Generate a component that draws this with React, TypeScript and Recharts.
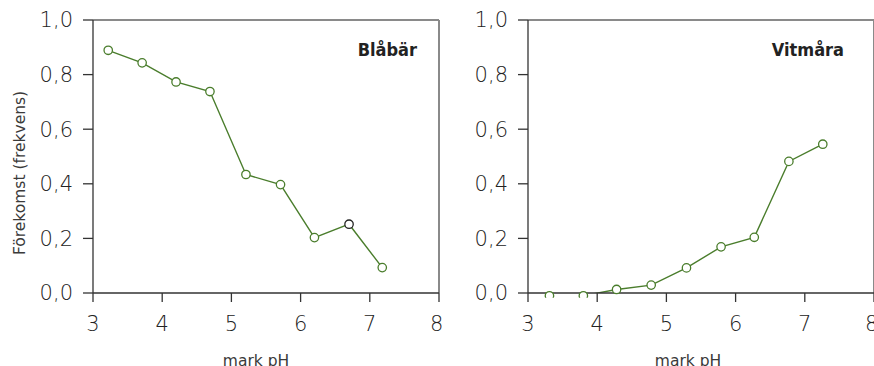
import { LineChart, Line, XAxis, YAxis, ReferenceLine } from 'recharts'

// Blåbär (left panel)
const blabarPh = [3.22, 3.71, 4.2, 4.69, 5.21, 5.71, 6.2, 6.7, 7.18]
const blabarFreq = [0.889, 0.843, 0.773, 0.738, 0.434, 0.397, 0.203, 0.252, 0.093]

// Vitmåra (right panel)
const vitmaraPh = [3.31, 3.8, 4.28, 4.78, 5.29, 5.79, 6.27, 6.77, 7.26]
const vitmaraFreq = [-0.01, -0.01, 0.013, 0.029, 0.092, 0.169, 0.204, 0.482, 0.545]

const xTicks = [3, 4, 5, 6, 7, 8]
const yTicks = [0, 0.2, 0.4, 0.6, 0.8, 1.0]

const GREEN = '#4a7d2c'
const AXIS = '#333333'
const FRAME = '#8a8a8a'
const TEXT = '#3a3a3a'
const FONT = '"DejaVu Sans", sans-serif'

const fmtComma = (v: number) => v.toFixed(1).replace('.', ',')

interface PanelProps {
  left: number
  ph: number[]
  freq: number[]
  title: string
  titleX: number
  xLabelX: number
  showYLabel: boolean
  blackDotIndex?: number
}

function Panel({ left, ph, freq, title, titleX, xLabelX, showYLabel, blackDotIndex }: PanelProps) {
  const data = ph.map((p, i) => ({ ph: p, freq: freq[i] }))

  const renderDot = (props: any) => {
    const { cx, cy, index } = props
    return (
      <circle
        key={`dot-${index}`}
        cx={cx}
        cy={cy}
        r={4.2}
        fill="#ffffff"
        stroke={index === blackDotIndex ? '#222222' : GREEN}
        strokeWidth={1.3}
      />
    )
  }

  const tickStyle = { fill: '#222', fontSize: 21, fontFamily: FONT, fontWeight: 300 }

  return (
    <div style={{ position: 'absolute', left, top: 0 }}>
      <LineChart
        width={442}
        height={366}
        data={data}
        margin={{ top: 20, right: 3, bottom: 0, left: 33 }}>
        <XAxis
          dataKey="ph"
          type="number"
          domain={[3, 8]}
          ticks={xTicks}
          height={73}
          stroke={AXIS}
          strokeWidth={1.3}
          tickSize={9}
          tickMargin={14}
          tick={tickStyle}
          label={{
            content: () => (
              <text
                x={xLabelX}
                y={366}
                textAnchor="middle"
                fill={TEXT}
                fontSize={15.5}
                fontFamily={FONT}>
                mark pH
              </text>
            )
          }}
        />
        <YAxis
          type="number"
          domain={[0, 1]}
          allowDataOverflow
          ticks={yTicks}
          width={60}
          stroke={AXIS}
          strokeWidth={1.3}
          tickSize={10}
          tickMargin={10}
          tickFormatter={fmtComma}
          tick={tickStyle}
          label={
            showYLabel
              ? {
                  content: () => (
                    <text
                      x={25}
                      y={173}
                      transform="rotate(-90, 25, 173)"
                      textAnchor="middle"
                      fill={TEXT}
                      fontSize={15.5}
                      fontFamily={FONT}>
                      Förekomst (frekvens)
                    </text>
                  )
                }
              : undefined
          }
        />
        <ReferenceLine y={1} stroke={FRAME} strokeWidth={2} />
        <ReferenceLine x={8} stroke={FRAME} strokeWidth={2} />
        <Line
          dataKey="freq"
          type="linear"
          stroke={GREEN}
          strokeWidth={1.4}
          dot={blackDotIndex !== undefined ? renderDot : { clipDot: false, r: 4.2, fill: '#ffffff', stroke: GREEN, strokeWidth: 1.3 }}
          activeDot={false}
          isAnimationActive={false}
        />
        <text
          x={titleX}
          y={56}
          textAnchor="end"
          fill="#222"
          fontSize={18}
          fontWeight="bold"
          fontFamily='"DejaVu Sans Condensed", "DejaVu Sans", sans-serif'
          style={{ fontStretch: 'condensed' }}>
          {title}
        </text>
      </LineChart>
    </div>
  )
}

export default function App() {
  return (
    <div style={{ position: 'absolute', left: 0, top: 0, width: 874, height: 366, background: '#fff' }}>
      <Panel
        left={0}
        ph={blabarPh}
        freq={blabarFreq}
        title="Blåbär"
        titleX={417}
        xLabelX={256}
        showYLabel
        blackDotIndex={7}
      />
      <Panel
        left={435}
        ph={vitmaraPh}
        freq={vitmaraFreq}
        title="Vitmåra"
        titleX={409}
        xLabelX={253}
        showYLabel={false}
      />
    </div>
  )
}
